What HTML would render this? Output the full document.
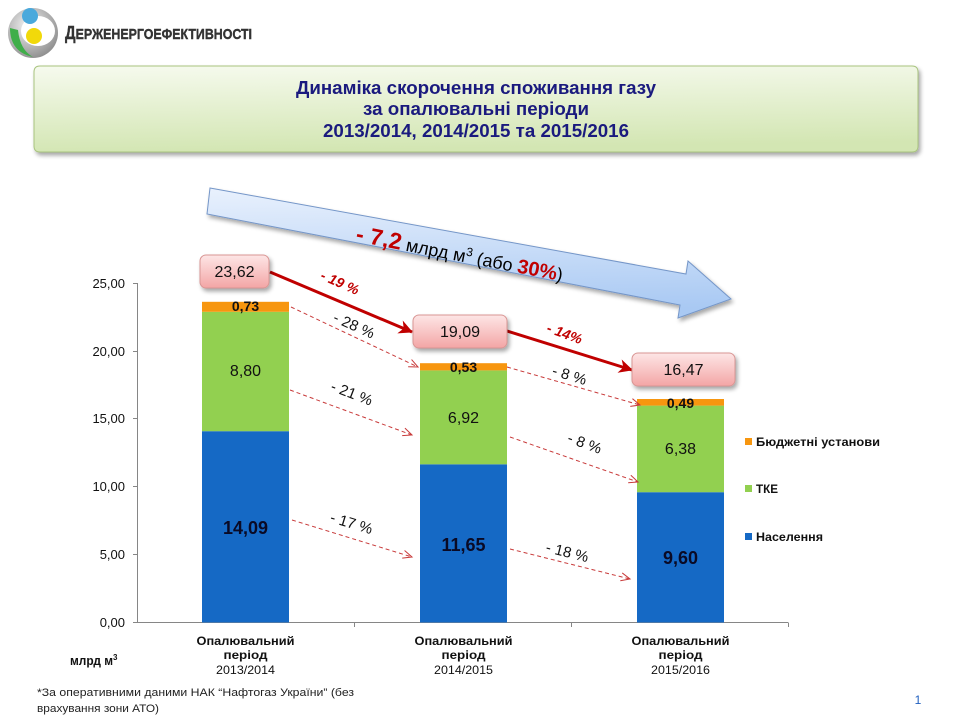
<!DOCTYPE html>
<html>
<head>
<meta charset="utf-8">
<style>
html,body{margin:0;padding:0;background:#fff;}
svg{display:block;}
text{font-family:"Liberation Sans","DejaVu Sans",sans-serif;}
</style>
</head>
<body>
<svg width="960" height="720" viewBox="0 0 960 720" xmlns="http://www.w3.org/2000/svg">
<defs>
  <linearGradient id="tg" x1="0" y1="0" x2="0.15" y2="1">
    <stop offset="0" stop-color="#f6faee"/>
    <stop offset="1" stop-color="#d3e6b3"/>
  </linearGradient>
  <linearGradient id="pg" x1="0" y1="0" x2="0" y2="1">
    <stop offset="0" stop-color="#fde6e6"/>
    <stop offset="1" stop-color="#f3a5a5"/>
  </linearGradient>
  <linearGradient id="ag" x1="0" y1="0" x2="0.1" y2="1">
    <stop offset="0" stop-color="#e9f1fd"/>
    <stop offset="1" stop-color="#a9c9f3"/>
  </linearGradient>
  <radialGradient id="lg" cx="0.4" cy="0.35" r="0.7">
    <stop offset="0" stop-color="#f4f4f4"/>
    <stop offset="1" stop-color="#8c8c8c"/>
  </radialGradient>
  <filter id="sh" x="-5%" y="-20%" width="110%" height="150%">
    <feGaussianBlur in="SourceAlpha" stdDeviation="2"/>
    <feOffset dx="2" dy="3" result="o"/>
    <feComponentTransfer><feFuncA type="linear" slope="0.35"/></feComponentTransfer>
    <feMerge><feMergeNode/><feMergeNode in="SourceGraphic"/></feMerge>
  </filter>
  <marker id="ra" markerUnits="userSpaceOnUse" markerWidth="16" markerHeight="16" refX="13" refY="7" orient="auto">
    <path d="M0,0 L14,7 L0,14 L4,7 z" fill="#c00000"/>
  </marker>
  <marker id="da" markerUnits="userSpaceOnUse" markerWidth="12" markerHeight="12" refX="10" refY="5" orient="auto">
    <path d="M1,1 L10,5 L1,9" stroke="#c83a3a" stroke-width="1" fill="none"/>
  </marker>
</defs>

<!-- Logo -->
<circle cx="33" cy="33" r="25" fill="url(#lg)"/>
<ellipse cx="38" cy="31" rx="17" ry="15" fill="#fff"/>
<path d="M10,28 Q10,52 33,57 Q20,50 18,30 z" fill="#3fae49"/>
<circle cx="30" cy="16" r="8" fill="#4aa9dc"/>
<circle cx="34" cy="36" r="8" fill="#f1d90a"/>
<text x="65" y="39" font-family="Liberation Serif, serif" font-weight="bold" font-size="15" fill="#333" stroke="#333" stroke-width="0.4" textLength="187" lengthAdjust="spacingAndGlyphs"><tspan font-size="18">Д</tspan>ЕРЖЕНЕРГОЕФЕКТИВНОСТІ</text>

<!-- Title box -->
<g filter="url(#sh)">
  <path d="M40,66 L912,66 Q918,66 918,72 L918,146 Q918,152 912,152 L40,152 Q34,152 34,146 L34,72 Q34,66 40,66 z" fill="url(#tg)" stroke="#a9c47f" stroke-width="1"/>
</g>
<g font-family="Liberation Sans Narrow, Liberation Sans, sans-serif" font-weight="bold" font-size="18" fill="#1a1a7e" text-anchor="middle">
  <text x="476" y="94" textLength="360" lengthAdjust="spacingAndGlyphs">Динаміка скорочення споживання газу</text>
  <text x="476" y="115" textLength="226" lengthAdjust="spacingAndGlyphs">за опалювальні періоди</text>
  <text x="476" y="137" textLength="306" lengthAdjust="spacingAndGlyphs">2013/2014, 2014/2015 та 2015/2016</text>
</g>

<!-- Big arrow -->
<g filter="url(#sh)">
  <polygon points="210,188 686,274 688,261 731,299 678,318 680,305 207,214" fill="url(#ag)" stroke="#7496c8" stroke-width="1"/>
</g>
<text x="355" y="241" transform="rotate(11 355 241)" fill="#000" font-size="18"><tspan fill="#c00000" font-weight="bold" font-size="23">- 7,2</tspan> млрд м<tspan font-size="12" dy="-7">3</tspan><tspan dy="7"> (або </tspan><tspan fill="#c00000" font-weight="bold" font-size="20">30%</tspan>)</text>

<!-- Axes -->
<g stroke="#868686" stroke-width="1" fill="none">
  <line x1="137.5" y1="283" x2="137.5" y2="622.5"/>
  <line x1="137" y1="622.5" x2="788" y2="622.5"/>
  <line x1="133" y1="283.5" x2="137" y2="283.5"/>
  <line x1="133" y1="351.5" x2="137" y2="351.5"/>
  <line x1="133" y1="418.5" x2="137" y2="418.5"/>
  <line x1="133" y1="486.5" x2="137" y2="486.5"/>
  <line x1="133" y1="554.5" x2="137" y2="554.5"/>
  <line x1="133" y1="622.5" x2="137" y2="622.5"/>
  <line x1="354.5" y1="622.5" x2="354.5" y2="627"/>
  <line x1="571.5" y1="622.5" x2="571.5" y2="627"/>
  <line x1="788.5" y1="622.5" x2="788.5" y2="627"/>
</g>
<g font-size="13" fill="#111" text-anchor="end">
  <text x="125" y="288">25,00</text>
  <text x="125" y="356">20,00</text>
  <text x="125" y="423">15,00</text>
  <text x="125" y="491">10,00</text>
  <text x="125" y="559">5,00</text>
  <text x="125" y="627">0,00</text>
</g>

<!-- Bars -->
<rect x="202" y="431.2" width="87" height="191.3" fill="#1569c5"/>
<rect x="202" y="311.8" width="87" height="119.4" fill="#92d050"/>
<rect x="202" y="301.8" width="87" height="10" fill="#f7960f"/>

<rect x="420" y="464.3" width="87" height="158.2" fill="#1569c5"/>
<rect x="420" y="370.4" width="87" height="93.9" fill="#92d050"/>
<rect x="420" y="363.2" width="87" height="7.2" fill="#f7960f"/>

<rect x="637" y="492.2" width="87" height="130.3" fill="#1569c5"/>
<rect x="637" y="405.6" width="87" height="86.6" fill="#92d050"/>
<rect x="637" y="399.0" width="87" height="6.6" fill="#f7960f"/>

<!-- Data labels -->
<g text-anchor="middle" fill="#111">
  <text x="245.5" y="311" font-size="14" font-weight="bold">0,73</text>
  <text x="245.5" y="376" font-size="16">8,80</text>
  <text x="245.5" y="534" font-size="18" font-weight="bold" fill="#0a0a25">14,09</text>
  <text x="463.5" y="372" font-size="14" font-weight="bold">0,53</text>
  <text x="463.5" y="423" font-size="16">6,92</text>
  <text x="463.5" y="551" font-size="18" font-weight="bold" fill="#0a0a25">11,65</text>
  <text x="680.5" y="408" font-size="14" font-weight="bold">0,49</text>
  <text x="680.5" y="454" font-size="16">6,38</text>
  <text x="680.5" y="564" font-size="18" font-weight="bold" fill="#0a0a25">9,60</text>
</g>

<!-- Dashed arrows -->
<g stroke="#c83a3a" stroke-width="1" stroke-dasharray="4,3" fill="none" marker-end="url(#da)">
  <line x1="291" y1="307" x2="418" y2="367"/>
  <line x1="290" y1="390" x2="412" y2="435"/>
  <line x1="292" y1="520" x2="412" y2="557"/>
  <line x1="507" y1="367" x2="640" y2="405"/>
  <line x1="510" y1="437" x2="638" y2="482"/>
  <line x1="510" y1="549" x2="630" y2="579"/>
</g>
<g font-size="15" fill="#111" text-anchor="middle">
  <text x="352" y="330" transform="rotate(24 352 330)">- 28 %</text>
  <text x="350" y="398" transform="rotate(21 350 398)">- 21 %</text>
  <text x="350" y="528" transform="rotate(17 350 528)">- 17 %</text>
  <text x="568" y="380" transform="rotate(17 568 380)">- 8 %</text>
  <text x="583" y="448" transform="rotate(20 583 448)">- 8 %</text>
  <text x="566" y="557" transform="rotate(14 566 557)">- 18 %</text>
</g>

<!-- Solid red arrows -->
<g stroke="#c00000" stroke-width="3" fill="none" marker-end="url(#ra)">
  <line x1="270" y1="272" x2="412" y2="332"/>
  <line x1="507" y1="331" x2="632" y2="370"/>
</g>
<g font-size="14" font-weight="bold" font-style="italic" fill="#c00000" text-anchor="middle">
  <text x="338" y="287" transform="rotate(24 338 287)">- 19 %</text>
  <text x="563" y="338" transform="rotate(20 563 338)">- 14%</text>
</g>

<!-- Pink boxes -->
<g filter="url(#sh)" fill="url(#pg)" stroke="#d99694" stroke-width="1">
  <rect x="200" y="255" width="69" height="33" rx="6"/>
  <rect x="413" y="315" width="94" height="33" rx="6"/>
  <rect x="632" y="353" width="103" height="33" rx="6"/>
</g>
<g font-size="16" fill="#111" text-anchor="middle">
  <text x="234.5" y="277">23,62</text>
  <text x="460" y="337">19,09</text>
  <text x="683.5" y="375">16,47</text>
</g>

<!-- Legend -->
<rect x="745" y="438" width="7" height="7" fill="#f7960f"/>
<rect x="745" y="485" width="7" height="7" fill="#92d050"/>
<rect x="745" y="533" width="7" height="7" fill="#1569c5"/>
<g font-size="12" font-weight="bold" fill="#111">
  <text x="756" y="446" textLength="124" lengthAdjust="spacingAndGlyphs">Бюджетні установи</text>
  <text x="756" y="493" textLength="22" lengthAdjust="spacingAndGlyphs">ТКЕ</text>
  <text x="756" y="541" textLength="67" lengthAdjust="spacingAndGlyphs">Населення</text>
</g>

<!-- X labels -->
<g font-size="12" font-weight="bold" fill="#111" text-anchor="middle">
  <text x="245.5" y="645" textLength="98" lengthAdjust="spacingAndGlyphs">Опалювальний</text>
  <text x="245.5" y="659" textLength="44" lengthAdjust="spacingAndGlyphs">період</text>
  <text x="245.5" y="674" textLength="59" lengthAdjust="spacingAndGlyphs" font-weight="normal">2013/2014</text>
  <text x="463.5" y="645" textLength="98" lengthAdjust="spacingAndGlyphs">Опалювальний</text>
  <text x="463.5" y="659" textLength="44" lengthAdjust="spacingAndGlyphs">період</text>
  <text x="463.5" y="674" textLength="59" lengthAdjust="spacingAndGlyphs" font-weight="normal">2014/2015</text>
  <text x="680.5" y="645" textLength="98" lengthAdjust="spacingAndGlyphs">Опалювальний</text>
  <text x="680.5" y="659" textLength="44" lengthAdjust="spacingAndGlyphs">період</text>
  <text x="680.5" y="674" textLength="59" lengthAdjust="spacingAndGlyphs" font-weight="normal">2015/2016</text>
</g>

<!-- Units -->
<text x="70" y="665" font-size="13" font-weight="bold" fill="#111"><tspan textLength="43" lengthAdjust="spacingAndGlyphs">млрд м</tspan><tspan font-size="8" dy="-5">3</tspan></text>

<!-- Footnote -->
<g font-size="11" fill="#222">
  <text x="37" y="696" textLength="317" lengthAdjust="spacingAndGlyphs">*За оперативними даними НАК “Нафтогаз України” (без</text>
  <text x="37" y="712" textLength="122" lengthAdjust="spacingAndGlyphs">врахування зони АТО)</text>
</g>

<text x="918" y="704" font-size="12" fill="#1f5fbf" text-anchor="middle">1</text>
</svg>
</body>
</html>
